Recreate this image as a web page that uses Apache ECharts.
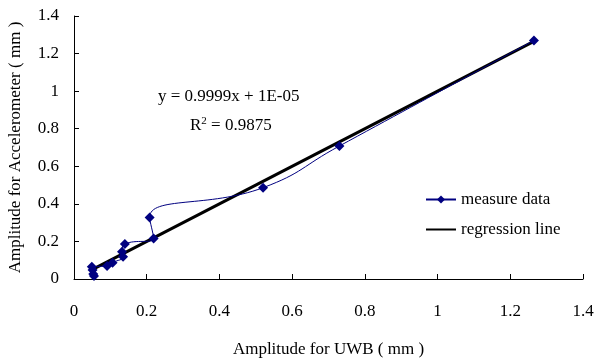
<!DOCTYPE html>
<html>
<head>
<meta charset="utf-8">
<script src="https://cdn.jsdelivr.net/npm/echarts@6/dist/echarts.min.js"></script>
<style>
html,body{margin:0;padding:0;background:#fff;}
#chart{width:597px;height:360px;}
</style>
</head>
<body>
<div id="chart"></div>
<script>
// Data
var measureX = [0.055, 0.053, 0.051, 0.049, 0.091, 0.106, 0.135, 0.132, 0.140, 0.219, 0.208, 0.520, 0.730, 1.265];
var measureY = [0.016, 0.027, 0.048, 0.065, 0.069, 0.087, 0.119, 0.145, 0.186, 0.216, 0.328, 0.486, 0.708, 1.270];
var regressionX = [0.05, 1.265];
var regressionY = [0.05, 1.265];
var xTicks = [0, 0.2, 0.4, 0.6, 0.8, 1, 1.2, 1.4];
var yTicks = [0, 0.2, 0.4, 0.6, 0.8, 1, 1.2, 1.4];
var seriesNames = ['measure data', 'regression line'];
var equationText = 'y = 0.9999x + 1E-05';
var r2Value = '0.9875';
var xTitle = 'Amplitude for UWB ( mm )';
var yTitle = 'Amplitude for Accelerometer ( mm )';

var FONT = 'Liberation Serif';
function pairs(xs, ys){ return xs.map(function(x,i){ return [x, ys[i]]; }); }

var chart = echarts.init(document.getElementById('chart'), null, {renderer:'canvas'});
var axisCommon = {
  type: 'value',
  min: xTicks[0],
  max: xTicks[xTicks.length-1],
  interval: 0.2,
  splitLine: {show:false},
  axisLine: {show:true, onZero:false, lineStyle:{color:'#000', width:1}},
  axisTick: {show:true, inside:true, length:5, lineStyle:{color:'#000'}},
  nameTextStyle: {fontFamily: FONT, fontSize: 17, color:'#000'}
};
chart.setOption({
  animation: false,
  backgroundColor: '#fff',
  grid: {left: 74, right: 14, top: 16, bottom: 81, containLabel: false, outerBoundsMode: 'none'},
  xAxis: Object.assign({}, axisCommon, {
    name: xTitle,
    nameLocation: 'middle',
    nameGap: 62,
    axisLabel: {fontFamily: FONT, fontSize: 17, color:'#000', margin: 24,
      formatter: function(v){ return String(+v.toFixed(1)); }}
  }),
  yAxis: Object.assign({}, axisCommon, {
    min: yTicks[0],
    max: yTicks[yTicks.length-1],
    name: yTitle,
    nameLocation: 'middle',
    nameGap: 50,
    axisLabel: {fontFamily: FONT, fontSize: 17, color:'#000', margin: 15,
      formatter: function(v){ return String(+v.toFixed(1)); }}
  }),
  legend: {
    orient: 'vertical',
    left: 420,
    top: 186,
    itemWidth: 30,
    itemHeight: 10,
    itemGap: 13,
    textStyle: {fontFamily: FONT, fontSize: 17, color:'#000'},
    data: [
      {name: seriesNames[0]},
      {name: seriesNames[1], itemStyle: {opacity: 0}}
    ]
  },
  series: [
    {
      name: seriesNames[1],
      type: 'line',
      data: pairs(regressionX, regressionY),
      symbol: 'none',
      lineStyle: {color:'#000', width: 3},
      itemStyle: {color:'#000'},
      z: 2
    },
    {
      name: seriesNames[0],
      type: 'line',
      data: pairs(measureX, measureY),
      smooth: 0.5,
      symbol: 'diamond',
      symbolSize: 10,
      showAllSymbol: true,
      lineStyle: {color:'#000080', width: 1},
      itemStyle: {color:'#000080'},
      z: 3
    }
  ],
  graphic: [
    {
      type: 'text',
      left: 158, top: 88,
      style: {text: equationText, font: '17px "Liberation Serif"', fill:'#000'}
    },
    {
      type: 'text',
      left: 190, top: 116,
      style: {
        text: 'R{sup|2} = ' + r2Value,
        font: '17px "Liberation Serif"', fill:'#000',
        rich: {sup: {fontSize: 11, fontFamily: FONT, verticalAlign:'top', padding:[0,0,8,0], fill:'#000'}}
      }
    }
  ]
});
</script>
</body>
</html>
